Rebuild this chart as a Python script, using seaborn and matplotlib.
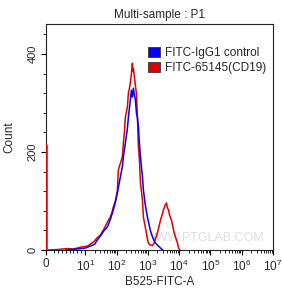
import numpy as np
import pandas as pd
import matplotlib
matplotlib.use("Agg")
import matplotlib.pyplot as plt
import seaborn as sns
from matplotlib.patches import Patch

# ---- data ----
ctrl_x = [5, 7.9, 10, 14.5, 20, 24, 30, 38, 51, 63, 79, 92, 106, 132, 153, 165, 191, 222, 239,
          276, 298, 321, 345, 372, 400, 431, 464, 500, 537, 580, 671, 722, 837, 970, 1200,
          1403, 1700, 2030, 2535, 3000]
ctrl_y = [0, 2, 4, 8, 12, 20, 28, 38, 47, 62, 82, 98, 116, 149, 170, 190, 218, 248, 271,
          306, 326, 312, 330, 316, 306, 280, 270, 251, 218, 190, 150, 122, 90, 67, 40,
          27, 15, 10, 4, 0]

cd19_x = [0.6, 3, 5.4, 7, 9, 12, 14.5, 19, 24, 30, 38, 45, 51, 63, 70, 79, 92, 106, 114, 125,
          140, 153, 165, 178, 191, 205, 222, 239, 258, 276, 298, 321, 335, 345, 372, 400, 431,
          464, 500, 537, 580, 671, 722, 837, 901, 970, 1044, 1200, 1403, 1600, 2030, 2535,
          2800, 3162, 3500, 3945, 4200, 4570, 5000, 5700, 6610, 7500, 8900, 9560, 10500]
cd19_y = [0, 1, 3, 2, 6, 8, 12, 17, 25, 30, 41, 50, 57, 67, 75, 88, 100, 122, 163, 172,
          182, 190, 218, 240, 271, 280, 292, 320, 330, 341, 360, 381, 364, 370, 353, 335, 320,
          271, 210, 185, 137, 102, 67, 45, 35, 22, 14, 10, 9, 15, 35, 61,
          70, 82, 90, 96, 86, 82, 70, 61, 41, 28, 14, 4, 0]

spike_x = [0, 0]
spike_y = [0, 214]

labels = ["FITC-IgG1 control", "FITC-65145(CD19)"]
colors = ["#0000ff", "#e00000"]
xtick_vals = [0, 10, 100, 1000, 10000, 100000, 1000000, 10000000]
xtick_labels = ["0", "$10^1$", "$10^2$", "$10^3$", "$10^4$", "$10^5$", "$10^6$", "$10^7$"]
ytick_vals = [0, 200, 400]

sns.set_style("ticks")
plt.rcParams["font.family"] = ["Liberation Sans", "DejaVu Sans"]
plt.rcParams["mathtext.default"] = "regular"

fig = plt.figure(figsize=(2.82, 2.96), dpi=100)
ax = fig.add_axes([46 / 282, 46 / 296, 227 / 282, 226 / 296])

df_c = pd.DataFrame({"x": ctrl_x, "y": ctrl_y})
df_r = pd.DataFrame({"x": cd19_x, "y": cd19_y})
df_s = pd.DataFrame({"x": spike_x, "y": spike_y})

sns.lineplot(data=df_s, x="x", y="y", ax=ax, color=colors[1], lw=1.8,
             estimator=None, sort=False, zorder=3)
sns.lineplot(data=df_r, x="x", y="y", ax=ax, color=colors[1], lw=1.1,
             estimator=None, sort=False, zorder=3)
sns.lineplot(data=df_c, x="x", y="y", ax=ax, color=colors[0], lw=1.1,
             estimator=None, sort=False, zorder=4)

ax.set_xscale("symlog", linthresh=10, linscale=1.13)
ax.set_xlim(0, 1e7)
ax.set_ylim(0, 461)

ax.set_xticks(xtick_vals)
ax.set_xticklabels(xtick_labels, fontsize=8.5)
minor = [k * 10 ** j for j in range(0, 7) for k in range(2, 10)]
ax.set_xticks(minor, minor=True)
ax.set_yticks(ytick_vals)
ax.set_yticklabels([str(v) for v in ytick_vals], fontsize=8, rotation=90, va="center")
ax.set_yticks(np.arange(40, 461, 40), minor=True)

ax.tick_params(axis="both", which="major", length=3.5, width=0.8, color="black", pad=2.5)
ax.tick_params(axis="both", which="minor", length=2.2, width=0.6, color="black")
for s in ax.spines.values():
    s.set_visible(True)
    s.set_linewidth(0.8)
    s.set_color("#222222")

ax.set_xlabel("B525-FITC-A", fontsize=8.5)
ax.set_ylabel("Count", fontsize=8.5)
ax.xaxis.set_label_coords(0.5, -0.115)
ax.yaxis.set_label_coords(-0.135, 0.5)
ax.set_title("Multi-sample : P1", fontsize=8.5, pad=4)

handles = [Patch(facecolor=c, edgecolor="#333333", linewidth=0.6) for c in colors]
ax.legend(handles, labels, loc="upper right", frameon=False, fontsize=8.5,
          handlelength=1.0, handleheight=1.0, handletextpad=0.4, labelspacing=0.2,
          borderaxespad=0.2, bbox_to_anchor=(1.0, 0.93))

ax.text(0.7, 0.055, "WWW.PTGLAB.COM", transform=ax.transAxes, ha="center", va="center",
        fontsize=9, color="#dedede", zorder=1)

fig.savefig("out.png", dpi=100)
